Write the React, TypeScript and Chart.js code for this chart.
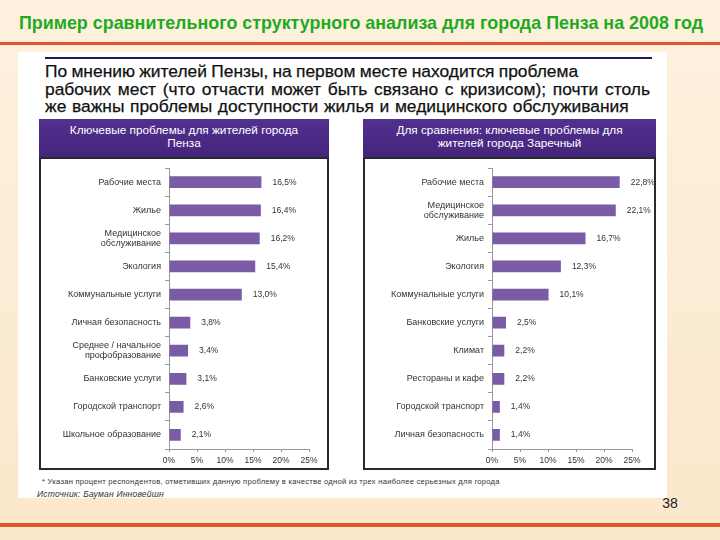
import React, { useEffect, useRef } from "react";
import { Chart, registerables } from "chart.js";

Chart.register(...registerables);

const pageTitle = "Пример сравнительного структурного анализа для города Пенза на 2008 год";
const headingLines = [
  "По мнению жителей Пензы, на первом месте находится проблема",
  "рабочих мест (что отчасти может быть связано с кризисом); почти столь",
  "же важны проблемы доступности жилья и медицинского обслуживания",
];
const leftHeader = ["Ключевые проблемы для жителей города", "Пенза"];
const rightHeader = ["Для сравнения: ключевые проблемы для", "жителей города Заречный"];

const leftCategories: (string | string[])[] = [
  "Рабочие места",
  "Жилье",
  ["Медицинское", "обслуживание"],
  "Экология",
  "Коммунальные услуги",
  "Личная безопасность",
  ["Среднее / начальное", "профобразование"],
  "Банковские услуги",
  "Городской транспорт",
  "Школьное образование",
];
const leftValues = [16.5, 16.4, 16.2, 15.4, 13.0, 3.8, 3.4, 3.1, 2.6, 2.1];

const rightCategories: (string | string[])[] = [
  "Рабочие места",
  ["Медицинское", "обслуживание"],
  "Жилье",
  "Экология",
  "Коммунальные услуги",
  "Банковские услуги",
  "Климат",
  "Рестораны и кафе",
  "Городской транспорт",
  "Личная безопасность",
];
const rightValues = [22.8, 22.1, 16.7, 12.3, 10.1, 2.5, 2.2, 2.2, 1.4, 1.4];

const axisMin = 0;
const axisMax = 25;
const axisStep = 5;

const footnote =
  "* Указан процент респондентов, отметивших данную проблему в качестве одной из трех наиболее серьезных для города";
const sourceText = "Источник: Бауман Инновейшн";
const pageNumber = "38";

const FONT = "'Liberation Sans', Arial, sans-serif";
const BAR_COLOR = "#7a5ba6";

const valueLabelPlugin = {
  id: "valueLabels",
  afterDatasetsDraw(chart: any) {
    const ctx = chart.ctx;
    const meta = chart.getDatasetMeta(0);
    const data = chart.data.datasets[0].data as number[];
    ctx.save();
    ctx.font = `8.5px ${FONT}`;
    ctx.fillStyle = "#333";
    ctx.textAlign = "left";
    ctx.textBaseline = "middle";
    meta.data.forEach((el: any, i: number) => {
      const txt = data[i].toFixed(1).replace(".", ",") + "%";
      ctx.fillText(txt, el.x + 11, el.y);
    });
    ctx.restore();
  },
};

function BarPanel(props: {
  categories: (string | string[])[];
  values: number[];
  width: number;
  height: number;
  yWidth: number;
  padRight: number;
}) {
  const ref = useRef<HTMLCanvasElement>(null);
  useEffect(() => {
    if (!ref.current) return;
    const chart = new Chart(ref.current, {
      type: "bar",
      data: {
        labels: props.categories as any,
        datasets: [
          {
            data: props.values,
            backgroundColor: BAR_COLOR,
            borderWidth: 0,
            barPercentage: 0.42,
            categoryPercentage: 1,
          },
        ],
      },
      options: {
        indexAxis: "y",
        animation: false,
        responsive: false,
        devicePixelRatio: 1,
        layout: { padding: { top: 9, right: props.padRight, bottom: 0, left: 0 } },
        plugins: {
          legend: { display: false },
          tooltip: { enabled: false },
          title: { display: false },
        },
        scales: {
          x: {
            min: axisMin,
            max: axisMax,
            ticks: {
              stepSize: axisStep,
              callback: (v: any) => v + "%",
              font: { size: 8.5, family: FONT },
              color: "#333",
              padding: 4,
              maxRotation: 0,
            },
            grid: {
              drawOnChartArea: false,
              tickLength: 3,
              color: "#999",
            },
            border: { display: true, color: "#999", width: 1 },
            afterFit: (s: any) => {
              s.height = 19;
            },
          },
          y: {
            ticks: {
              font: { size: 9, family: FONT, lineHeight: 1.15 },
              color: "#333",
              padding: 4,
              autoSkip: false,
            },
            grid: {
              drawOnChartArea: false,
              offset: true,
              tickLength: 4,
              color: "#999",
            },
            border: { display: true, color: "#999", width: 1 },
            afterFit: (s: any) => {
              s.width = props.yWidth;
            },
          },
        },
      },
      plugins: [valueLabelPlugin],
    });
    return () => chart.destroy();
  }, []);
  return (
    <canvas
      ref={ref}
      width={props.width}
      height={props.height}
      style={{ width: props.width, height: props.height, display: "block" }}
    />
  );
}

export default function App() {
  const abs = (l: number, t: number, w?: number, h?: number): React.CSSProperties => ({
    position: "absolute",
    left: l,
    top: t,
    width: w,
    height: h,
  });
  const headerStyle: React.CSSProperties = {
    background: "linear-gradient(#52308f, #44257c)",
    color: "#fff",
    fontFamily: FONT,
    fontSize: 11.8,
    lineHeight: "13px",
    textAlign: "center",
    boxSizing: "border-box",
    paddingTop: 5,
    whiteSpace: "nowrap",
  };
  const boxStyle: React.CSSProperties = {
    background: "#fff",
    border: "2px solid #2a2a2a",
    boxSizing: "border-box",
  };
  const headingSpacing = [-0.6, 1.9, 0.8];
  return (
    <div
      style={{
        position: "fixed",
        left: 0,
        top: 0,
        width: 720,
        height: 540,
        overflow: "hidden",
        background: "linear-gradient(180deg, #fdf1de 0%, #fcecd5 50%, #fbe8cc 100%)",
        fontFamily: FONT,
      }}
    >
      <div
        style={{
          ...abs(0, 12, 720, 22),
          textAlign: "center",
          color: "#1faa1f",
          fontWeight: "bold",
          fontSize: 17.9,
          lineHeight: "22px",
          whiteSpace: "nowrap",
          paddingLeft: 1,
        }}
      >
        {pageTitle}
      </div>
      <div style={{ ...abs(0, 42, 720, 3), background: "#e0552b" }} />

      <div style={{ ...abs(18, 52, 649, 446), background: "#fff" }} />
      <div style={{ ...abs(45, 57, 607, 2), background: "#1c1c5c" }} />
      <div
        style={{
          ...abs(45, 63, 620, 54),
          color: "#111",
          fontSize: 17.4,
          lineHeight: "17.5px",
          whiteSpace: "nowrap",
          WebkitTextStroke: "0.25px #111",
        }}
      >
        {headingLines.map((l, i) => (
          <div key={i} style={{ wordSpacing: headingSpacing[i] }}>
            {l}
          </div>
        ))}
      </div>

      <div style={{ ...abs(39, 119, 290, 38), ...headerStyle }}>
        {leftHeader.map((l, i) => (
          <div key={i}>{l}</div>
        ))}
      </div>
      <div style={{ ...abs(39, 157, 290, 313), ...boxStyle }}>
        <BarPanel
          categories={leftCategories}
          values={leftValues}
          width={286}
          height={309}
          yWidth={128}
          padRight={18}
        />
      </div>

      <div style={{ ...abs(363, 119, 293, 38), ...headerStyle }}>
        {rightHeader.map((l, i) => (
          <div key={i}>{l}</div>
        ))}
      </div>
      <div style={{ ...abs(363, 157, 293, 313), ...boxStyle }}>
        <BarPanel
          categories={rightCategories}
          values={rightValues}
          width={289}
          height={309}
          yWidth={127}
          padRight={22}
        />
      </div>

      <div
        style={{
          ...abs(42, 476, 620, 12),
          fontSize: 7.6,
          color: "#333",
          lineHeight: "12px",
          whiteSpace: "nowrap",
          letterSpacing: 0.25,
        }}
      >
        {footnote}
      </div>
      <div
        style={{
          ...abs(37, 488, 300, 12),
          fontSize: 8.5,
          fontStyle: "italic",
          color: "#333",
          lineHeight: "12px",
          whiteSpace: "nowrap",
          letterSpacing: 0.2,
        }}
      >
        {sourceText}
      </div>
      <div
        style={{
          ...abs(655, 494, 30, 18),
          fontSize: 14,
          color: "#222",
          lineHeight: "18px",
          textAlign: "center",
        }}
      >
        {pageNumber}
      </div>
      <div style={{ ...abs(0, 523, 720, 4), background: "#e0552b" }} />
    </div>
  );
}
